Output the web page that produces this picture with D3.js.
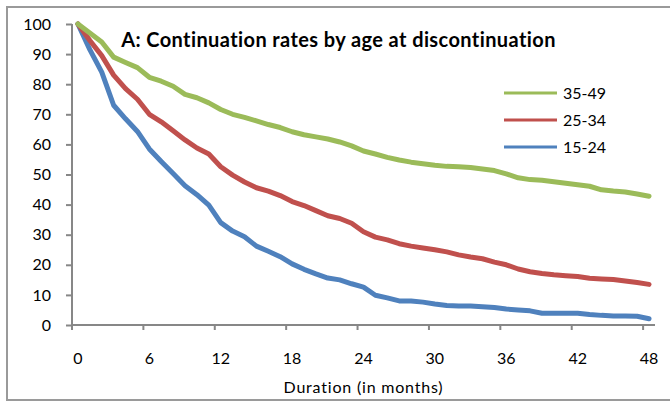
<!DOCTYPE html>
<html>
<head>
<meta charset="utf-8">
<script src="https://cdn.jsdelivr.net/npm/d3@7"></script>
<style>
  html, body { margin: 0; padding: 0; background: #fff; }
  svg text { font-family: Lato, "Open Sans", sans-serif; fill: #000; }
</style>
</head>
<body>
<svg id="chart" width="670" height="403"></svg>
<script>
// Months since start of use (category axis, 0..48)
const months = d3.range(0, 49);
const xTickLabels = ["0", "6", "12", "18", "24", "30", "36", "42", "48"];
const yTickValues = [0, 10, 20, 30, 40, 50, 60, 70, 80, 90, 100];

// Continuation rates (%) by age group at discontinuation
const age35to49 = [100, 97, 94, 89, 87.2, 85.5, 82.3, 81, 79.3, 76.6, 75.5, 73.8, 71.6, 70, 69, 67.8,
  66.6, 65.6, 64.2, 63.2, 62.5, 61.8, 60.8, 59.5, 57.8, 56.8, 55.7, 54.8, 54.1, 53.6, 53.1, 52.7,
  52.6, 52.3, 51.8, 51.3, 50.2, 48.9, 48.3, 48.1, 47.6, 47.1, 46.6, 46.1, 44.9, 44.5, 44.2, 43.5, 42.8];
const age25to34 = [100, 94.5, 89.5, 83, 78.5, 75, 70, 67.5, 64.5, 61.5, 58.8, 56.8, 52.6, 49.8, 47.5, 45.6,
  44.5, 43, 41, 39.7, 38, 36.3, 35.4, 33.8, 31, 29.2, 28.3, 27, 26.2, 25.6, 25, 24.3,
  23.3, 22.6, 22, 20.9, 20, 18.6, 17.7, 17.1, 16.7, 16.4, 16.1, 15.5, 15.3, 15.1, 14.6, 14.1, 13.5];
const age15to24 = [100, 91.5, 84, 73, 68.5, 64.3, 58.5, 54.3, 50.3, 46.3, 43.3, 39.8, 34, 31.2, 29.3, 26.2,
  24.5, 22.7, 20.3, 18.5, 17, 15.6, 15, 13.7, 12.6, 9.9, 9, 8, 8, 7.6, 7, 6.5,
  6.3, 6.3, 6.1, 5.8, 5.3, 5, 4.7, 3.9, 3.9, 3.9, 3.9, 3.5, 3.2, 3, 3, 2.9, 2.1];

const seriesNames = ["35-49", "25-34", "15-24"];
const seriesColors = ["#9BBB59", "#C0504D", "#4F81BD"];
const seriesValues = [age35to49, age25to34, age15to24];

const titleText = "A: Continuation rates by age at discontinuation";
const xAxisTitle = "Duration (in months)";

const svg = d3.select("#chart");
const axisColor = "#878787";

// Chart frame
svg.append("rect")
  .attr("x", 7).attr("y", 7)
  .attr("width", 670).attr("height", 393)
  .attr("fill", "#fff")
  .attr("stroke", "#9a9a9a")
  .attr("stroke-width", 2);

const plot = { left: 72, right: 655, top: 24, bottom: 325 };

const x = d3.scaleBand()
  .domain(months)
  .range([plot.left, plot.right])
  .padding(0);
const xc = m => x(m) + x.bandwidth() / 2;

const y = d3.scaleLinear()
  .domain([0, 100])
  .range([plot.bottom, plot.top]);

// Y axis
const yAxis = svg.append("g")
  .attr("transform", `translate(${plot.left},0)`)
  .call(d3.axisLeft(y).tickValues(yTickValues).tickSize(6).tickPadding(15).tickFormat(d3.format("d")));
yAxis.select(".domain").attr("stroke", axisColor).attr("stroke-width", 2)
  .attr("d", `M0,${plot.top}V${plot.bottom}`);
yAxis.selectAll(".tick line").attr("stroke", axisColor).attr("stroke-width", 2);
yAxis.selectAll(".tick text").attr("font-size", 16).attr("fill", "#000");

// X axis: category axis, ticks on category boundaries, labels on category centres
const xAxisG = svg.append("g").attr("transform", `translate(0,${plot.bottom})`);
xAxisG.append("line")
  .attr("x1", plot.left).attr("x2", plot.right)
  .attr("y1", 0).attr("y2", 0)
  .attr("stroke", axisColor).attr("stroke-width", 2);
const tickMonths = xTickLabels.map(Number);
xAxisG.selectAll("line.tick")
  .data(tickMonths)
  .join("line")
  .attr("class", "tick")
  .attr("x1", d => x(d)).attr("x2", d => x(d))
  .attr("y1", 0).attr("y2", 5)
  .attr("stroke", axisColor).attr("stroke-width", 2);
xAxisG.selectAll("text.label")
  .data(xTickLabels)
  .join("text")
  .attr("class", "label")
  .attr("x", d => xc(+d))
  .attr("y", 39)
  .attr("text-anchor", "middle")
  .attr("font-size", 16)
  .text(d => d);

// Axis title
svg.append("text")
  .attr("x", (plot.left + plot.right) / 2)
  .attr("y", 393)
  .attr("text-anchor", "middle")
  .attr("font-size", 16)
  .attr("letter-spacing", 0.8)
  .text(xAxisTitle);

// Chart title
svg.append("text")
  .attr("x", 338.5)
  .attr("y", 47)
  .attr("text-anchor", "middle")
  .attr("font-size", 20)
  .attr("letter-spacing", 0.4)
  .attr("font-weight", "bold")
  .text(titleText);

// Series lines
const line = d3.line()
  .x((d, i) => xc(months[i]))
  .y(d => y(d));

svg.append("g").selectAll("path")
  .data(seriesValues.map((v, i) => ({ values: v, color: seriesColors[i] })).reverse())
  .join("path")
  .attr("d", d => line(d.values))
  .attr("fill", "none")
  .attr("stroke", d => d.color)
  .attr("stroke-width", 5)
  .attr("stroke-linecap", "round")
  .attr("stroke-linejoin", "round");

// Legend
const legend = svg.append("g");
const legendRows = legend.selectAll("g")
  .data(seriesNames)
  .join("g")
  .attr("transform", (d, i) => `translate(504,${93 + i * 27})`);
legendRows.append("line")
  .attr("x1", 0).attr("x2", 53)
  .attr("y1", 0).attr("y2", 0)
  .attr("stroke", (d, i) => seriesColors[i])
  .attr("stroke-width", 3);
legendRows.append("text")
  .attr("x", 59)
  .attr("y", 0)
  .attr("dy", "0.35em")
  .attr("font-size", 16)
  .text(d => d);
</script>
</body>
</html>
